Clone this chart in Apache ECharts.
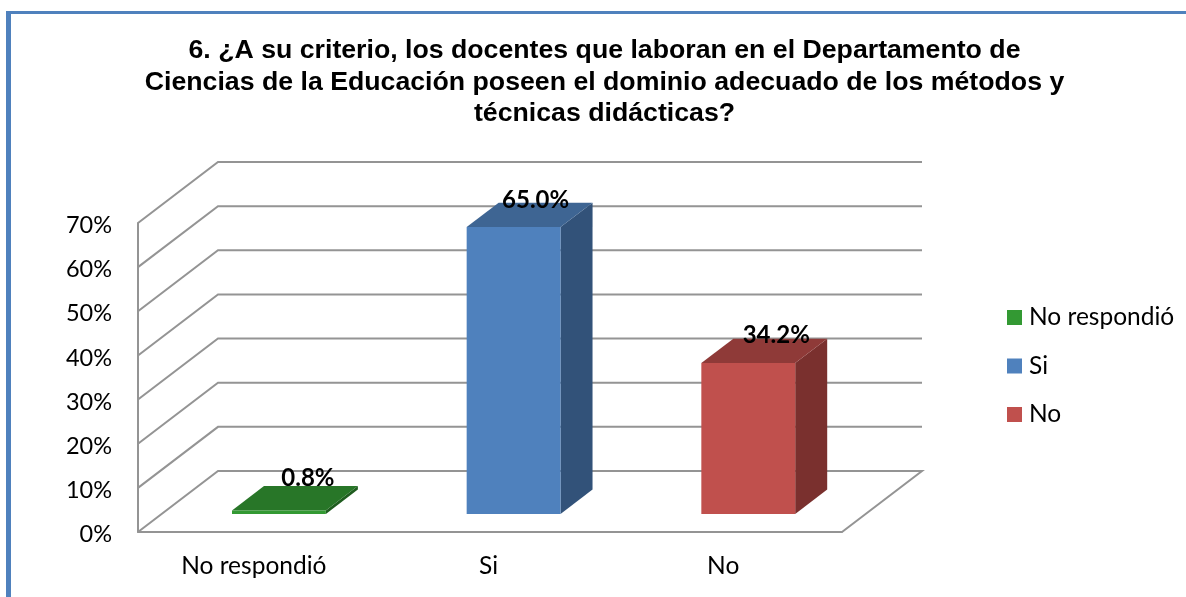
<!DOCTYPE html>
<html>
<head>
<meta charset="utf-8">
<style>
  html, body { margin: 0; padding: 0; background: #fff; }
  #chart { width: 1186px; height: 597px; }
</style>
<script src="https://cdn.jsdelivr.net/npm/echarts@6/dist/echarts.min.js"></script>
</head>
<body>
<div id="chart"></div>
<script>
const titleText = '6. ¿A su criterio, los docentes que laboran en el Departamento de\nCiencias de la Educación poseen el dominio adecuado de los métodos y\ntécnicas didácticas?'
const categories = ['No respondió', 'Si', 'No']
const values = [0.8, 65.0, 34.2]
const yTicks = [0, 10, 20, 30, 40, 50, 60, 70]

// front, top, side of each block
const faceColors = [
  ['#339933', '#287628', '#1f5c1f'],
  ['#4f81bd', '#3e6593', '#325279'],
  ['#c0504d', '#8f3a38', '#7a302e']
]
const fontName = 'Lato'
const gridColor = '#949494'
// 3d look: how far the back wall sits from the front plane
const depthX = 80
const depthY = -61
const barWidthRatio = 0.4
const floorStart = 0.295
const barDepth = 0.4
// labels were placed by hand in the original, a bit off from the bars
const labelDx = [29, 22, 28]
const labelDy = [-32, -27, -28]

function renderWall(params, api) {
  const v = api.value(1)
  const sys = params.coordSys
  const y = api.coord([0, v])[1]
  const left = sys.x
  const right = sys.x + sys.width
  const points = [[left, y], [left + depthX, y + depthY], [right + depthX, y + depthY]]
  // el suelo se cierra contra el eje
  if (v === 0) points.push([right, y])
  return {
    type: 'polyline',
    shape: { points },
    style: { stroke: gridColor, lineWidth: 2, fill: null }
  }
}

function renderBlock(params, api) {
  const idx = api.value(0)
  const val = api.value(1)
  const colors = faceColors[idx]
  const w = api.size([1, 0])[0] * barWidthRatio
  const shiftX = depthX * floorStart
  const shiftY = depthY * floorStart
  const dx = depthX * barDepth
  const dy = depthY * barDepth
  const top = api.coord([idx, val])
  const base = api.coord([idx, 0])
  const x0 = top[0] - w / 2 + shiftX
  const x1 = x0 + w
  const yTop = top[1] + shiftY
  const yBase = base[1] + shiftY
  return {
    type: 'group',
    children: [
      {
        type: 'polygon',
        shape: { points: [[x1, yTop], [x1 + dx, yTop + dy], [x1 + dx, yBase + dy], [x1, yBase]] },
        style: { fill: colors[2] }
      },
      {
        type: 'polygon',
        shape: { points: [[x0, yTop], [x0 + dx, yTop + dy], [x1 + dx, yTop + dy], [x1, yTop]] },
        style: { fill: colors[1] }
      },
      {
        type: 'rect',
        shape: { x: x0, y: yTop, width: w, height: yBase - yTop },
        style: { fill: colors[0] }
      },
      {
        type: 'text',
        z2: 10,
        style: {
          text: val.toFixed(1) + '%',
          x: (x0 + x1) / 2 + labelDx[idx],
          y: yTop + labelDy[idx],
          align: 'center',
          verticalAlign: 'middle',
          fill: '#000',
          font: 'bold 24px ' + fontName
        }
      }
    ]
  }
}

const blockSeries = categories.map((name, i) => ({
  type: 'custom',
  name,
  z: 5,
  itemStyle: { color: faceColors[i][0] },
  renderItem: renderBlock,
  encode: { x: 0, y: 1 },
  data: [[i, values[i]]]
}))

const myChart = echarts.init(document.getElementById('chart'))
myChart.setOption({
  animation: false,
  backgroundColor: '#fff',
  textStyle: { fontFamily: fontName },
  title: {
    text: titleText,
    left: 604.5,
    top: 35,
    padding: 0,
    textAlign: 'center',
    textStyle: {
      fontFamily: 'Liberation Sans',
      fontSize: 26.7,
      fontWeight: 'bold',
      color: '#000',
      lineHeight: 31.5
    }
  },
  legend: {
    orient: 'vertical',
    left: 1007,
    top: 305,
    padding: 0,
    icon: 'rect',
    itemWidth: 15,
    itemHeight: 15,
    itemGap: 23.5,
    data: categories,
    selectedMode: false,
    textStyle: { fontFamily: fontName, fontSize: 24.5, color: '#000', padding: [0, 0, 0, 2] }
  },
  grid: { left: 138, right: 344, top: 223, bottom: 65 },
  xAxis: {
    type: 'category',
    data: categories,
    axisTick: { show: false },
    axisLine: { lineStyle: { color: gridColor, width: 2 } },
    axisLabel: {
      color: '#000',
      margin: 22,
      formatter: '{a|{value}}',
      rich: { a: { fontSize: 24.5, color: '#000', padding: [0, 3, 0, 0] } }
    }
  },
  yAxis: {
    type: 'value',
    min: 0,
    max: 70,
    interval: 10,
    splitLine: { show: false },
    axisTick: { show: false },
    axisLine: { show: true, lineStyle: { color: gridColor, width: 2 } },
    axisLabel: {
      color: '#000',
      margin: 26,
      formatter: '{a|{value}%}',
      rich: { a: { fontSize: 23.5, color: '#000', padding: [5, 0, 0, 0] } }
    }
  },
  graphic: [
    { type: 'rect', shape: { x: 6, y: 11, width: 1180, height: 3 }, style: { fill: '#4f81bd' } },
    { type: 'rect', shape: { x: 6, y: 11, width: 5, height: 586 }, style: { fill: '#4f81bd' } }
  ],
  series: [
    {
      type: 'custom',
      name: 'pared',
      z: 1,
      silent: true,
      renderItem: renderWall,
      encode: { x: 0, y: 1 },
      data: yTicks.map(v => [0, v])
    },
    ...blockSeries
  ]
})
</script>
</body>
</html>
